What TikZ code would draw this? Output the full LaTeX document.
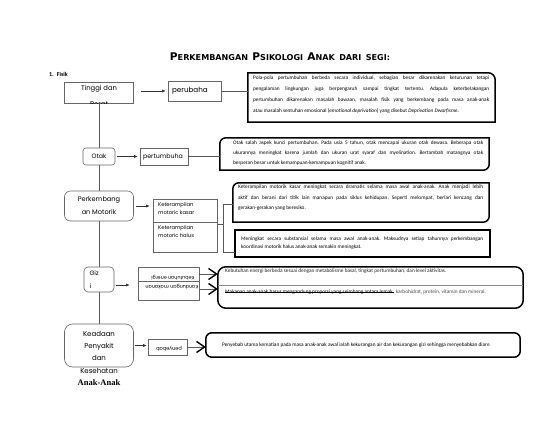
\documentclass[tikz,border=0pt]{standalone}
\usepackage{fontspec}
\setmainfont{Carlito}
\newfontfamily\hand{Poppins}
\newfontfamily\ttlfont{DejaVu Sans}
\newfontfamily\serifbold{Liberation Serif}
\usetikzlibrary{calc,arrows.meta}

\newcommand\bodyfont[1]{\fontsize{5.3}{#1}\selectfont\frenchspacing\tolerance=9999\hyphenpenalty=10000\exhyphenpenalty=10000\relax}
\newcommand\mySC[2]{{\fontsize{8.5}{9}\selectfont #1}{\fontsize{6.5}{9}\selectfont #2}}

\tikzset{
 hbox/.style={draw=black!60, line width=0.6pt, inner sep=0pt, font=\hand},
 conn/.style={draw=black!65, line width=0.6pt},
 arr/.style={draw=black!80, line width=0.6pt, -{Latex[length=3.5pt,width=3pt]}},
 chev/.style={conn, -{Straight Barb[length=8pt,width=11pt,line width=1.4pt,color=black]}},
 bigbox/.style={draw=black, line width=1.5pt},
 boxarea/.style={inner sep=0pt, draw=none},
 txt/.style={inner sep=0pt, anchor=north west, align=justify},
}

\newcommand\selbox[5]{%
\draw[bigbox]
 ($(#1.north west)+(#2,0)$) -- ($(#1.north east)+(-#3,0)$)
 .. controls ($(#1.north east)+(-0.45*#3,0)$) and ($(#1.north east)+(0,0.45*#3)$) .. ($(#1.north east)+(0,#3)$)
 -- ($(#1.south east)+(0,-#4)$)
 .. controls ($(#1.south east)+(0,-0.45*#4)$) and ($(#1.south east)+(-0.45*#4,0)$) .. ($(#1.south east)+(-#4,0)$)
 -- ($(#1.south west)+(#5,0)$)
 .. controls ($(#1.south west)+(0.45*#5,0)$) and ($(#1.south west)+(0,-0.45*#5)$) .. ($(#1.south west)+(0,-#5)$)
 -- ($(#1.north west)+(0,#2)$)
 .. controls ($(#1.north west)+(0,0.45*#2)$) and ($(#1.north west)+(0.45*#2,0)$) .. ($(#1.north west)+(#2,0)$)
 -- cycle;}

\begin{document}
\begin{tikzpicture}[x=1pt,y=-1pt]
\path[use as bounding box, fill=white] (0,0) rectangle (560,433);

% title
\node[inner sep=0pt] (title) at (280,57) {\resizebox{220pt}{!}{\ttlfont\bfseries \mySC{P}{ERKEMBANGAN}\ \mySC{P}{SIKOLOGI}\ \mySC{A}{NAK}\ \mySC{}{DARI}\ \mySC{}{SEGI:}}};
\node[anchor=west, inner sep=0pt, font=\bfseries\fontsize{6}{7}\selectfont] (fisik) at (49,74.5) {1.\enspace Fisik};

% big boxes
\node[boxarea, minimum width=247pt, minimum height=49pt] (b1) at (371.5,97.5) {};
\selbox{b1}{0}{7}{0}{0}
\node[txt, text width=236pt, font=\bodyfont{11}] (b1t) at (253,75.5) {Pola-pola pertumbuhan berbeda secara individual, sebagian besar dikarenakan keturunan tetapi\linebreak pengalaman lingkungan juga berpengaruh sampai tingkat tertentu. Adapula keterbelakangan\linebreak pertumbuhan dikarenakan masalah bawaan, masalah fisik yang berkembang pada masa anak-anak\linebreak atau masalah sentuhan emosional (\emph{emotional deprivation}) yang disebut \emph{Deprivation Dwarfisme}.};

\node[boxarea, minimum width=269pt, minimum height=32pt] (b2) at (354.5,154) {};
\selbox{b2}{6}{0}{6}{0}
\node[txt, text width=250pt, font=\bodyfont{10}] (b2t) at (233,140.5) {Otak salah aspek kunci pertumbuhan. Pada usia 5 tahun, otak mencapai ukuran otak dewasa. Beberapa otak\linebreak ukurannya meningkat karena jumlah dan ukuran urat syaraf dan myelination. Bertambah matangnya otak\linebreak berperan besar untuk kemampuan-kemampuan kognitif anak.};

\node[boxarea, minimum width=256pt, minimum height=39pt] (b3) at (361,202.5) {};
\selbox{b3}{6}{0}{6}{0}
\node[txt, text width=245pt, font=\bodyfont{10.5}] (b3t) at (238,185) {Keterampilan motorik kasar meningkat secara dramatis selama masa awal anak-anak. Anak menjadi lebih\linebreak aktif dan berani dari titik lain manapun pada siklus kehidupan. Seperti melompat, berlari kencang dan\linebreak gerakan-gerakan yang beresiko.};

\node[boxarea, minimum width=255pt, minimum height=27pt] (b4) at (362.5,243.5) {};
\selbox{b4}{0}{0}{0}{0}
\node[txt, text width=242pt, font=\bodyfont{8}] (b4t) at (241,236.5) {Meningkat secara substansial selama masa awal anak-anak. Maksudnya setiap tahunnya perkembangan\linebreak koordinasi motorik halus anak-anak semakin meningkat.};

\node[boxarea, minimum width=305pt, minimum height=41pt] (b5) at (370.5,287.5) {};
\selbox{b5}{8}{8}{8}{8}
\draw[draw=black!45, line width=0.8pt] (b5.west |- 0,285) -- (b5.east |- 0,285);
\node[anchor=west, inner sep=0pt, font=\bodyfont{6}, text=black!85] (b5r1) at (225,271) {Kebutuhan energi berbeda sesuai dengan metabolisme basal, tingkat pertumbuhan, dan level aktivitas.};
\node[anchor=base west, inner sep=0pt, font=\bodyfont{6}] (b5r2a) at (225,293.5) {Makanan anak-anak harus mengandung proporsi yang seimbang antara lemak,};
\node[anchor=base west, inner sep=0pt, font=\bodyfont{6}, text=black!70] (b5r2b) at ($(b5r2a.base east)+(1.3,0)$) {karbohidrat, protein, vitamin dan mineral.};
\draw[black, line width=0.5pt] ($(b5r2a.base west)+(0,-1.6)$) -- ($(b5r2a.base east)+(0,-1.6)$);

\node[boxarea, minimum width=314pt, minimum height=24pt] (b6) at (363,345) {};
\selbox{b6}{6}{6}{6}{6}
\node[anchor=west, inner sep=0pt, font=\bodyfont{6}] (b6t) at (222,345) {Penyebab utama kematian pada masa anak-anak awal ialah kekurangan air dan kekurangan gizi sehingga menyebabkan diare};

% small nodes
\node[hbox, minimum width=69pt, minimum height=21pt] (tinggi) at (99,92.5) {};
\begin{scope}
\clip (tinggi.south west) rectangle (tinggi.north east);
\node[inner sep=0pt, anchor=north, align=center, font=\hand\fontsize{6.8}{16}\selectfont] (tinggiT) at (99,85) {Tinggi dan\\Berat};
\end{scope}

\node[hbox, minimum width=53pt, minimum height=20pt, text width=45pt, align=left, inner xsep=4pt, font=\hand\fontsize{7.2}{9}\selectfont] (peru) at (194.5,91) {perubaha};

\node[hbox, rounded corners=3pt, minimum width=32pt, minimum height=17pt, font=\hand\fontsize{6.3}{8}\selectfont] (otak) at (99,156.5) {Otak};
\node[hbox, minimum width=48pt, minimum height=17pt, text width=42pt, inner xsep=3pt, align=left, font=\hand\fontsize{6.3}{8}\selectfont] (pert) at (164,156.5) {pertumbuha};

\node[hbox, rounded corners=6pt, minimum width=69pt, minimum height=30pt, align=center, font=\hand\fontsize{6.6}{13}\selectfont] (perk) at (99,206) {Perkembang\\an Motorik};

\node[hbox, minimum width=64pt, minimum height=23pt] (ket1) at (185,210.5) {};
\node[hbox, minimum width=64pt, minimum height=30pt] (ket2) at (185,237) {};
\node[inner sep=0pt, anchor=north west, align=left, font=\hand\fontsize{5.2}{7.5}\selectfont] (ket1T) at (158,202.5) {Keterampilan\\motoric kasar};
\node[inner sep=0pt, anchor=north west, align=left, font=\hand\fontsize{5.2}{7.5}\selectfont] (ket2T) at (158,225.5) {Keterampilan\\motoric halus};

\node[hbox, rounded corners=4pt, minimum width=30pt, minimum height=25pt, text width=19pt, align=left, font=\hand\fontsize{6.3}{13}\selectfont] (gizi) at (99,279.5) {Giz\\i};

\node[hbox, minimum width=61pt, minimum height=14pt] (g1) at (168.5,274) {};
\node[hbox, minimum width=61pt, minimum height=19pt] (g2) at (168.5,290.5) {};
\node[rotate=180, inner sep=0pt, font=\hand\fontsize{4.8}{5}\selectfont] (g1T) at (173,278) {Kebutuhan energi};
\node[rotate=180, inner sep=0pt, font=\hand\fontsize{4.8}{5}\selectfont] (g2T) at (172,287) {Kandungan makanan};

\node[hbox, rounded corners=8pt, minimum width=69pt, minimum height=43pt] (kead) at (99,345.5) {};
\node[inner sep=0pt, anchor=north, align=center, font=\hand\fontsize{7}{12.3}\selectfont] (keadT) at (99,331) {Keadaan\\Penyakit\\dan\\Kesehatan};
\node[inner sep=0pt, font=\serifbold\bfseries\fontsize{8.5}{10}\selectfont] (anak) at (99,383) {Anak-Anak};

\node[hbox, minimum width=39pt, minimum height=16pt] (peny) at (167.5,347) {};
\node[rotate=180, inner sep=0pt, font=\hand\fontsize{5}{6}\selectfont] (penyT) at (169,349) {penyebab};

% connectors
\draw[arr, shorten <=7pt, shorten >=2pt] (tinggi.east |- peru.west) -- (peru.west);
\draw[conn] (peru.east) -- (peru.east -| b1.west);
\draw[conn] (tinggi.south) -- (otak.north);
\draw[conn] (otak.south) -- (perk.north);
\draw[conn] (perk.south) -- (gizi.north);
\draw[conn] (gizi.south) -- (kead.north);
\draw[arr, shorten <=2pt, shorten >=2pt] (otak.east) -- (otak.east -| pert.west);
\draw[conn] (pert.east) -- (pert.east -| b2.west);
\draw[arr, shorten <=2pt, shorten >=3pt] (perk.east) -- (perk.east -| ket1.west);
\coordinate (bt) at (223,204);
\coordinate (bb) at (223,252);
\coordinate (bm) at (223,224);
\draw[conn] (bt -| b3.west) -- (bt) -- (bb) -- (bb -| b4.west);
\draw[conn] (bm -| ket2.east) -- (bm);
\coordinate (ga) at (0,285);
\draw[arr, shorten <=2pt, shorten >=8pt] (ga -| gizi.east) -- (ga -| g1.west);
\coordinate (c1) at (0,274);
\coordinate (c2) at (0,289);
\draw[chev] (c1 -| g1.east) -- (c1 -| b5.west);
\draw[chev] (c2 -| g2.east) -- (c2 -| b5.west);
\draw[arr, shorten <=1pt, shorten >=1pt] (kead.east) -- (kead.east -| peny.west);
\draw[chev] (peny.east) -- (peny.east -| b6.west);
\end{tikzpicture}
\end{document}
